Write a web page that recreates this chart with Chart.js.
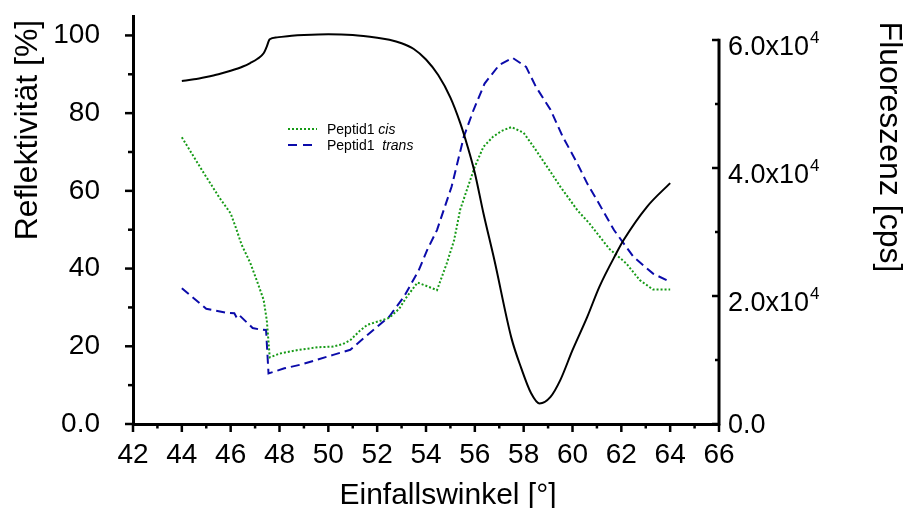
<!DOCTYPE html>
<html>
<head>
<meta charset="utf-8">
<script src="https://cdn.jsdelivr.net/npm/chart.js@4/dist/chart.umd.min.js"></script>
<style>
  html, body { margin: 0; padding: 0; background: #ffffff; }
  canvas { display: block; }
</style>
</head>
<body>
<canvas id="chart" width="908" height="508"></canvas>
<script>
// Reflectivity vs. angle of incidence (left axis, %)
const reflAngle = [44.0, 44.5, 45.0, 45.5, 46.0, 46.5, 46.8, 47.1, 47.35, 47.47, 47.6, 47.9, 48.5, 49.0, 50.0, 51.0, 52.0, 52.5, 53.0, 53.5, 54.0, 54.5, 55.0, 55.4, 55.7, 56.0, 56.35, 56.8, 57.5, 57.9, 58.3, 58.65, 59.1, 59.5, 60.0, 60.6, 61.1, 61.8, 62.1, 63.05, 64.0];
const reflValue = [88.3, 88.7, 89.3, 90.0, 90.9, 92.0, 92.9, 94.0, 95.4, 97.0, 99.0, 99.5, 99.9, 100.1, 100.3, 100.1, 99.4, 98.9, 98.0, 96.5, 93.8, 89.8, 84.0, 77.5, 71.5, 64.6, 54.3, 42.2, 22.1, 14.4, 8.0, 5.3, 7.0, 11.3, 19.0, 27.5, 35.3, 44.0, 47.4, 55.9, 62.0];

// Fluorescence, Peptid1 cis (right axis, cps)
const cisAngle = [44.0, 44.9, 45.55, 46.0, 46.2, 46.45, 46.8, 47.1, 47.35, 47.48, 47.6, 48.0, 48.8, 49.6, 50.2, 50.6, 50.9, 51.3, 51.6, 52.1, 52.5, 52.9, 53.2, 53.65, 54.0, 54.45, 54.85, 55.15, 55.4, 55.8, 56.0, 56.35, 56.75, 57.1, 57.5, 58.0, 58.5, 59.1, 59.5, 60.2, 60.7, 61.5, 62.2, 62.75, 63.3, 64.0];
const cisValue = [44800, 39200, 35300, 32900, 30800, 28000, 25200, 22100, 19400, 16200, 10400, 11000, 11600, 12000, 12100, 12500, 13100, 14600, 15500, 16100, 16600, 18000, 19800, 22100, 21600, 20900, 25100, 28700, 33500, 38000, 40200, 43300, 44900, 45800, 46400, 45500, 42800, 39400, 37100, 33400, 31300, 27400, 25100, 22500, 21000, 21000];

// Fluorescence, Peptid1 trans (right axis, cps)
const transAngle = [44.0, 45.0, 45.8, 46.15, 46.22, 46.3, 46.9, 47.15, 47.45, 47.55, 48.2, 48.9, 49.5, 50.2, 50.9, 51.6, 52.5, 53.1, 53.7, 54.05, 54.45, 55.05, 55.55, 55.95, 56.4, 57.0, 57.55, 58.1, 58.5, 59.1, 59.6, 60.2, 60.6, 61.0, 61.7, 62.5, 63.3, 64.0];
const transValue = [21200, 18000, 17400, 17300, 16800, 17200, 15000, 14800, 14700, 7900, 8700, 9300, 10000, 10800, 11600, 13900, 16800, 19900, 24000, 27200, 30300, 37100, 44900, 49100, 53200, 56100, 57200, 55800, 52700, 49100, 44900, 40700, 37600, 35000, 30300, 26100, 23500, 22200];

// Axis ticks and labels
const xTicks = [42, 44, 46, 48, 50, 52, 54, 56, 58, 60, 62, 64, 66];
const xMinorTicks = [43, 45, 47, 49, 51, 53, 55, 57, 59, 61, 63, 65];
const leftTicks = [0, 20, 40, 60, 80, 100];
const leftTickLabels = ['0.0', '20', '40', '60', '80', '100'];
const leftMinorTicks = [10, 30, 50, 70, 90];
const rightTicks = [0, 20000, 40000, 60000];
const rightTickLabels = ['0.0', '2.0x10', '4.0x10', '6.0x10'];
const rightTickExponents = ['', '4', '4', '4'];
const rightMinorTicks = [10000, 30000, 50000];

const FONT = "'Liberation Sans', Arial, Helvetica, sans-serif";
const INK = '#000000';
const CIS_COLOR = '#169a16';
const TRANS_COLOR = '#0b0baa';

const toPoints = (xs, ys) => xs.map((x, i) => ({ x: x, y: ys[i] }));
const fixedTicks = values => scale => { scale.ticks = values.map(v => ({ value: v })); };
const noOverflow = scale => {
  scale.paddingTop = 0;
  scale.paddingBottom = 0;
  scale.paddingLeft = 0;
  scale.paddingRight = 0;
};

// Axis furniture: tick marks, right axis line and labels, axis titles, legend
const axisDecor = {
  id: 'axisDecor',
  afterDraw(chart) {
    const ctx = chart.ctx;
    const area = chart.chartArea;
    const sx = chart.scales.x, sy = chart.scales.y, sr = chart.scales.y1;
    ctx.save();
    ctx.strokeStyle = INK;
    ctx.fillStyle = INK;
    ctx.lineCap = 'butt';

    const seg = (x1, y1, x2, y2, w) => {
      ctx.lineWidth = w;
      ctx.beginPath();
      ctx.moveTo(x1, y1);
      ctx.lineTo(x2, y2);
      ctx.stroke();
    };

    // left axis ticks (outward)
    leftTicks.forEach(v => { const y = sy.getPixelForValue(v); seg(area.left - 8, y, area.left, y, 2.5); });
    leftMinorTicks.forEach(v => { const y = sy.getPixelForValue(v); seg(area.left - 5, y, area.left, y, 2.5); });

    // bottom axis ticks (outward)
    xTicks.forEach(v => { const x = sx.getPixelForValue(v); seg(x, area.bottom, x, area.bottom + 8, 2.5); });
    xMinorTicks.forEach(v => { const x = sx.getPixelForValue(v); seg(x, area.bottom, x, area.bottom + 4.5, 2.5); });

    // right axis line, up to the last labelled value
    const rx = area.right;
    seg(rx, sr.getPixelForValue(0) + 1.5, rx, sr.getPixelForValue(rightTicks[rightTicks.length - 1]) - 1.2, 3);
    rightTicks.forEach(v => { const y = sr.getPixelForValue(v); seg(rx - 7, y, rx, y, 2.5); });
    rightMinorTicks.forEach(v => { const y = sr.getPixelForValue(v); seg(rx - 4, y, rx, y, 2.5); });

    // right axis labels with exponent
    ctx.textAlign = 'left';
    ctx.textBaseline = 'alphabetic';
    rightTicks.forEach((v, i) => {
      const y = sr.getPixelForValue(v);
      const exp = rightTickExponents[i];
      const base = exp ? y + 15 : y + 9;
      ctx.font = '27px ' + FONT;
      ctx.fillText(rightTickLabels[i], rx + 9, base);
      if (exp) {
        const w = ctx.measureText(rightTickLabels[i]).width;
        ctx.font = '17px ' + FONT;
        ctx.fillText(exp, rx + 9 + w + 1, base - 12);
      }
    });

    // axis titles
    ctx.textAlign = 'center';
    ctx.font = '30px ' + FONT;
    ctx.fillText('Einfallswinkel [°]', 448, 504);

    ctx.font = '32px ' + FONT;
    ctx.save();
    ctx.translate(37, 130);
    ctx.rotate(-Math.PI / 2);
    ctx.fillText('Reflektivität [%]', 0, 0);
    ctx.restore();

    ctx.save();
    ctx.translate(880, 147);
    ctx.rotate(Math.PI / 2);
    ctx.fillText('Fluoreszenz [cps]', 0, 0);
    ctx.restore();

    // legend
    const legendRows = [
      { color: CIS_COLOR, dash: [2, 2], name: 'Peptid1 ', kind: 'cis', y: 129 },
      { color: TRANS_COLOR, dash: [9, 6], name: 'Peptid1  ', kind: 'trans', y: 145 }
    ];
    ctx.textAlign = 'left';
    legendRows.forEach(r => {
      ctx.save();
      ctx.strokeStyle = r.color;
      ctx.setLineDash(r.dash);
      seg(288, r.y, 317, r.y, 2);
      ctx.restore();
      ctx.font = '14px ' + FONT;
      ctx.fillText(r.name, 327, r.y + 5);
      const w = ctx.measureText(r.name).width;
      ctx.font = 'italic 14px ' + FONT;
      ctx.fillText(r.kind, 327 + w, r.y + 5);
    });

    ctx.restore();
  }
};

new Chart(document.getElementById('chart').getContext('2d'), {
  type: 'line',
  data: {
    datasets: [
      {
        label: 'Reflektivität',
        data: toPoints(reflAngle, reflValue),
        yAxisID: 'y',
        borderColor: INK,
        borderWidth: 2,
        pointRadius: 0,
        cubicInterpolationMode: 'monotone',
        fill: false
      },
      {
        label: 'Peptid1 cis',
        data: toPoints(cisAngle, cisValue),
        yAxisID: 'y1',
        borderColor: CIS_COLOR,
        borderWidth: 2,
        borderDash: [2, 2],
        pointRadius: 0,
        tension: 0,
        fill: false
      },
      {
        label: 'Peptid1 trans',
        data: toPoints(transAngle, transValue),
        yAxisID: 'y1',
        borderColor: TRANS_COLOR,
        borderWidth: 2,
        borderDash: [9, 5],
        pointRadius: 0,
        tension: 0,
        fill: false
      }
    ]
  },
  options: {
    responsive: false,
    animation: false,
    events: [],
    layout: { padding: { top: 16, left: 0, right: 0, bottom: 0 } },
    plugins: { legend: { display: false }, tooltip: { enabled: false } },
    scales: {
      x: {
        type: 'linear',
        min: 42,
        max: 66,
        afterBuildTicks: fixedTicks(xTicks),
        afterFit: s => { s.height = 84; noOverflow(s); },
        grid: { display: false, drawTicks: false },
        border: { display: true, color: INK, width: 3 },
        ticks: { color: INK, font: { family: FONT, size: 28 }, padding: 14, maxRotation: 0, autoSkip: false }
      },
      y: {
        type: 'linear',
        position: 'left',
        min: 0,
        max: 105,
        afterBuildTicks: fixedTicks(leftTicks),
        afterFit: s => { s.width = 133; noOverflow(s); },
        grid: { display: false, drawTicks: false },
        border: { display: true, color: INK, width: 3 },
        ticks: {
          color: INK,
          font: { family: FONT, size: 28 },
          padding: 33,
          autoSkip: false,
          callback: v => leftTickLabels[leftTicks.indexOf(v)]
        }
      },
      y1: {
        type: 'linear',
        position: 'right',
        min: 0,
        max: 63750,
        afterBuildTicks: fixedTicks(rightTicks),
        afterFit: s => { s.width = 189; noOverflow(s); },
        grid: { display: false, drawTicks: false },
        border: { display: false },
        ticks: { display: false }
      }
    }
  },
  plugins: [axisDecor]
});
</script>
</body>
</html>
